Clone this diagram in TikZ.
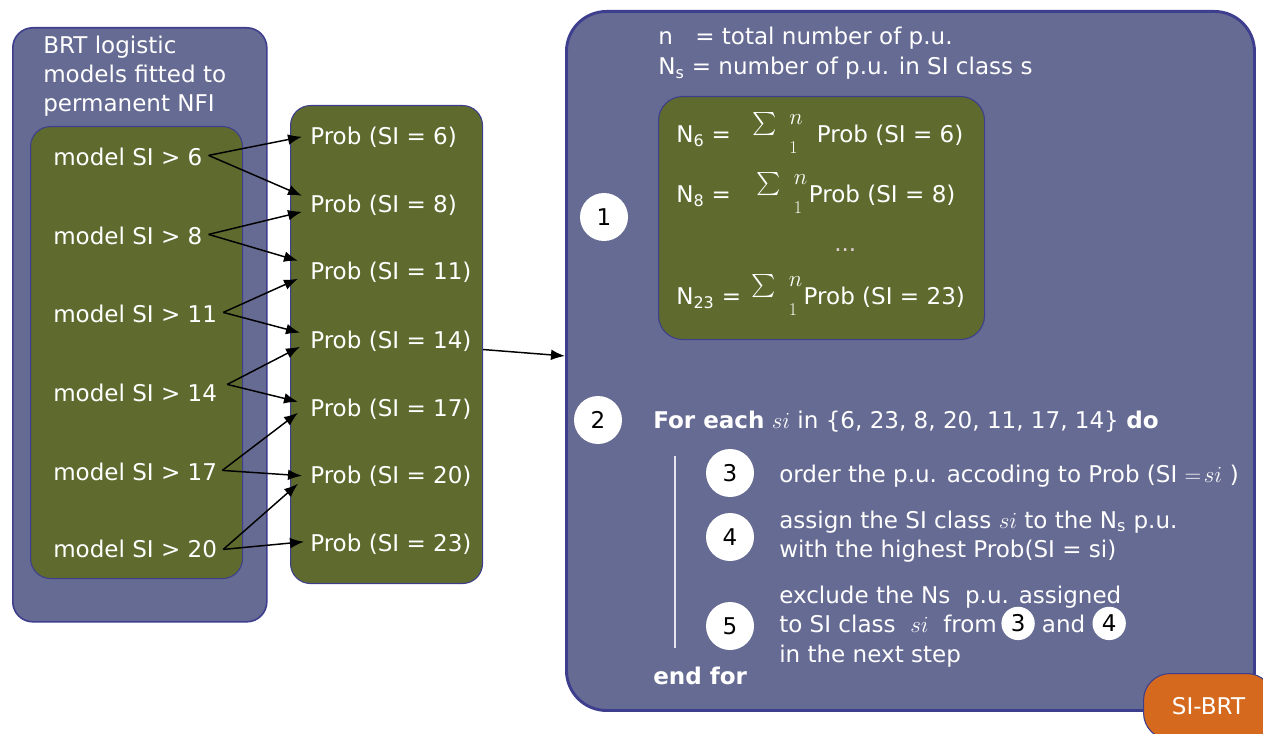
\documentclass[tikz,border=0pt]{standalone}
\usepackage{graphicx}
\usepackage{fontspec}
\setmainfont{DejaVu Sans}
\usetikzlibrary{calc,arrows.meta,positioning}
\definecolor{panelblue}{RGB}{102,107,147}
\definecolor{edgeblue}{RGB}{62,62,142}
\definecolor{olivefill}{RGB}{95,106,46}
\definecolor{siorange}{RGB}{213,106,30}
\definecolor{dotcol}{RGB}{225,205,210}
\definecolor{loopcol}{RGB}{228,228,240}
\newcommand\pxl[1]{#1*0.75pt}
\newcommand\sumn{\raisebox{7pt}{\scalebox{1.728}{$\sum$}}\hspace{9.5pt}\rlap{\raisebox{13.5pt}{$n$}}\raisebox{-8pt}{\scalebox{0.78}{$1$}}\hspace{5pt}}
\tikzset{
  panel/.style={draw=edgeblue, fill=panelblue, line width=1.2pt, rounded corners=15pt, anchor=north west, inner sep=0pt},
  olivebox/.style={draw=edgeblue, fill=olivefill, line width=0.8pt, rounded corners=15pt, anchor=north west, inner sep=0pt},
  txt/.style={text=white, inner sep=0pt, anchor=base west},
  numc/.style={circle, fill=white, text=black, minimum size=36pt, inner sep=0pt},
  minic/.style={circle, fill=white, text=black, minimum size=25pt, inner sep=0pt},
  conn/.style={-{Latex[length=10.5pt,width=8pt]}, line width=1.1pt, black},
  loopline/.style={draw=loopcol, line width=1.2pt},
}
\begin{document}
\begin{tikzpicture}[x=0.75pt, y=-0.75pt, font=\fontsize{17.28}{22}\selectfont]
\useasboundingbox (0,0) rectangle (1263,734);

% containers
\node[panel, minimum width=\pxl{254}, minimum height=\pxl{594}] (brt) at (12,27) {};
\node[olivebox, minimum width=\pxl{212}, minimum height=\pxl{452}] (models) at (30,126) {};
\node[olivebox, minimum width=\pxl{192}, minimum height=\pxl{478}] (probs) at (290,105) {};
\node[panel, line width=2.2pt, rounded corners=30pt, minimum width=\pxl{688}, minimum height=\pxl{699}] (main) at (565,10) {};
\node[olivebox, rounded corners=18pt, minimum width=\pxl{326}, minimum height=\pxl{243}] (sums) at (658,96) {};

% left panel
\node[txt, anchor=north west, align=left] (title) at (43,35.5) {BRT logistic\\models fitted to\\permanent NFI};
\node[txt] (m6) at (53,166) {model SI > 6};
\node[txt] (m8) at (53,245) {model SI > 8};
\node[txt] (m11) at (53,322) {model SI > 11};
\node[txt] (m14) at (53,401) {model SI > 14};
\node[txt] (m17) at (53,480) {model SI > 17};
\node[txt] (m20) at (53,557) {model SI > 20};

\node[txt] (p6) at (310,145) {Prob (SI = 6)};
\node[txt] (p8) at (310,213) {Prob (SI = 8)};
\node[txt] (p11) at (310,280) {Prob (SI = 11)};
\node[txt] (p14) at (310,348) {Prob (SI = 14)};
\node[txt] (p17) at (310,416) {Prob (SI = 17)};
\node[txt] (p20) at (310,483) {Prob (SI = 20)};
\node[txt] (p23) at (310,551) {Prob (SI = 23)};

\draw[conn] ($(m6.east)+(6,-2)$) -- ($(p6.west)+(-8,-1)$);
\draw[conn] ($(m6.east)+(6,-2)$) -- ($(p8.west)+(-8,-10)$);
\draw[conn] ($(m8.east)+(6,-2)$) -- ($(p8.west)+(-8,6)$);
\draw[conn] ($(m8.east)+(6,-2)$) -- ($(p11.west)+(-12,-12)$);
\draw[conn] ($(m11.east)+(6,-1)$) -- ($(p11.west)+(-12,6)$);
\draw[conn] ($(m11.east)+(6,-1)$) -- ($(p14.west)+(-10,-8)$);
\draw[conn] ($(m14.east)+(10,-8)$) -- ($(p14.west)+(-10,6)$);
\draw[conn] ($(m14.east)+(10,-8)$) -- ($(p17.west)+(-12,-7)$);
\draw[conn] ($(m17.east)+(5,-1)$) -- ($(p17.west)+(-12,4)$);
\draw[conn] ($(m17.east)+(5,-1)$) -- ($(p20.west)+(-8,0)$);
\draw[conn] ($(m20.east)+(6,1)$) -- ($(p20.west)+(-12,8)$);
\draw[conn] ($(m20.east)+(6,1)$) -- ($(p23.west)+(-6,-2)$);

\draw[conn] ($(probs.east)+(0,5)$) -- ($(main.west)+(0,-5)$);

% right panel
\node[txt] (ndef) at (658,45) {\makebox[27.75pt][l]{n}= total number of p.u.};
\node[txt] (nsdef) at (658,75) {N\textsubscript{s} = number of p.u. in SI class s};

\node[txt] (sum6) at (676,143) {N\textsubscript{6} =\hspace{16pt}\sumn\hspace{4pt} Prob (SI = 6)};
\node[txt] (sum8) at (676,203) {N\textsubscript{8} =\hspace{19.5pt}\sumn Prob (SI = 8)};
\node[txt, text=dotcol] (dots) at (834,252) {...};
\node[txt] (sum23) at (676,305) {N\textsubscript{23} =\hspace{8pt}\sumn Prob (SI = 23)};

\node[numc] (s1) at (604,217) {1};
\node[numc] (s2) at (598,420) {2};
\node[numc] (s3) at (730,473) {3};
\node[numc] (s4) at (730,537) {4};
\node[numc] (s5) at (730,626) {5};

\node[txt] (foreach) at (653,428) {\textbf{For each} $si$ in \{6, 23, 8, 20, 11, 17, 14\} \textbf{do}};
\draw[loopline] (675,456) -- (675,648);
\node[txt] (t3) at (779,482) {order the p.u. accoding to Prob (SI $\mathrel{=}\!si$\,\,)};
\node[txt] (t4a) at (779,528) {assign the SI class $si$ to the N\textsubscript{s} p.u.};
\node[txt] (t4b) at (779,557) {with the highest Prob(SI = si)};
\node[txt] (t5a) at (779,603) {exclude the Ns~ p.u. assigned};
\node[txt] (t5b) at (779,632) {to SI class~ $si$~ from};
\node[minic, right=3pt of t5b] (c3) {3};
\node[txt, anchor=west, right=5pt of c3] (and5) {and};
\node[minic, right=5pt of and5] (c4) {4};
\node[txt] (t5c) at (779,662) {in the next step};
\node[txt] (endfor) at (653,684) {\textbf{end for}};

\node[draw=edgeblue, fill=siorange, line width=0.8pt, rounded corners=20pt, anchor=north west, inner sep=0pt, text=white, minimum width=\pxl{130}, minimum height=\pxl{66}] (tag) at (1143,673) {SI-BRT};
\end{tikzpicture}
\end{document}
